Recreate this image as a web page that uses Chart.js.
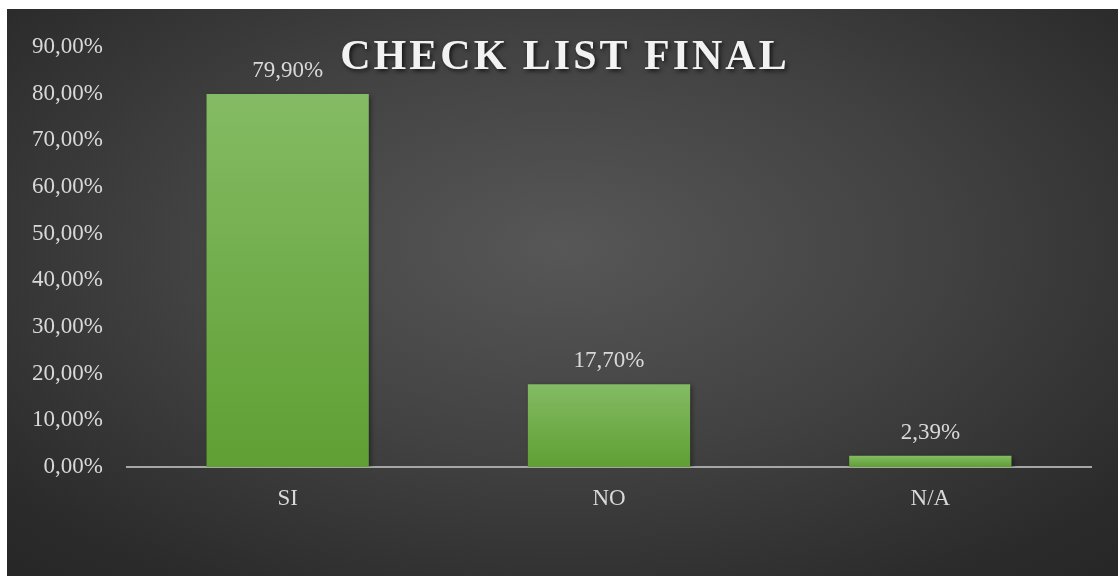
<!DOCTYPE html>
<html>
<head>
<meta charset="utf-8">
<script src="https://cdn.jsdelivr.net/npm/chart.js@4"></script>
<style>
  html, body { margin: 0; padding: 0; background: #fff; }
  #wrap {
    position: absolute; left: 7px; top: 9px; width: 1111px; height: 567px;
    background: radial-gradient(ellipse 75% 80% at 50% 42%, #575757 0%, #424242 45%, #2b2b2b 85%, #262626 100%);
  }
</style>
</head>
<body>
<div id="wrap"><canvas id="chart" width="1111" height="567"></canvas></div>
<script>
const categories = ['SI', 'NO', 'N/A'];
const values = [79.90, 17.70, 2.39];
const yTicks = [0, 10, 20, 30, 40, 50, 60, 70, 80, 90];
const titleText = 'CHECK LIST FINAL';

function fmt(v) {
    return v.toFixed(2).replace('.', ',') + '%';
}

// title drawn over the plot like the original
const titlePlugin = {
    id: 'overTitle',
    afterDraw(chart) {
        const ctx = chart.ctx;
        ctx.save();
        ctx.font = 'bold 42px "Liberation Serif", "Times New Roman", serif';
        ctx.letterSpacing = '3px';
        ctx.fillStyle = '#f2f2f2';
        ctx.textAlign = 'center';
        ctx.textBaseline = 'middle';
        ctx.shadowColor = 'rgba(0,0,0,0.7)';
        ctx.shadowBlur = 4;
        ctx.shadowOffsetX = 2;
        ctx.shadowOffsetY = 2;
        ctx.fillText(titleText, 558, 49);
        ctx.restore();
    }
};

// value labels above bars
const labelPlugin = {
    id: 'valueLabels',
    afterDatasetsDraw(chart) {
        const ctx = chart.ctx;
        const meta = chart.getDatasetMeta(0);
        ctx.save();
        ctx.font = '23px "Liberation Serif", "Times New Roman", serif';
        ctx.fillStyle = '#d9d9d9';
        ctx.textAlign = 'center';
        ctx.textBaseline = 'alphabetic';
        meta.data.forEach((bar, i) => {
            ctx.fillText(fmt(values[i]), bar.x, bar.y - 17);
        });
        ctx.restore();
    }
};

const shadowPlugin = {
    id: 'barShadow',
    beforeDatasetsDraw(chart) {
        const ctx = chart.ctx;
        ctx.save();
        ctx.shadowColor = 'rgba(0,0,0,0.45)';
        ctx.shadowBlur = 5;
        ctx.shadowOffsetX = 2;
        ctx.shadowOffsetY = 2;
    },
    afterDatasetsDraw(chart) {
        chart.ctx.restore();
    }
};

function barFill(context) {
    const chart = context.chart;
    if (!chart.chartArea) return '#70ad47';
    const y = chart.scales.y;
    const v = values[context.dataIndex];
    const top = y.getPixelForValue(v);
    const bottom = y.getPixelForValue(0);
    const g = chart.ctx.createLinearGradient(0, top, 0, bottom);
    g.addColorStop(0, '#84bb64');
    g.addColorStop(1, '#5f9f33');
    return g;
}

const ctx = document.getElementById('chart').getContext('2d');
new Chart(ctx, {
    type: 'bar',
    data: {
        labels: categories,
        datasets: [{
            data: values,
            backgroundColor: barFill,
            borderWidth: 0,
            categoryPercentage: 1,
            barPercentage: 0.505
        }]
    },
    options: {
        responsive: false,
        animation: false,
        layout: { padding: { left: 0, right: 27, top: 37, bottom: 0 } },
        plugins: {
            legend: { display: false },
            tooltip: { enabled: false }
        },
        scales: {
            x: {
                grid: { display: false, drawTicks: false },
                border: { display: true, color: '#a6a6a6', width: 2 },
                ticks: {
                    color: '#d9d9d9',
                    padding: 18,
                    font: { family: '"Liberation Serif", "Times New Roman", serif', size: 23 }
                },
                afterFit(axis) { axis.height = 109; }
            },
            y: {
                min: 0,
                max: 90,
                grid: { display: false, drawTicks: false },
                border: { display: false },
                afterBuildTicks(axis) {
                    axis.ticks = yTicks.map(v => ({ value: v }));
                },
                ticks: {
                    color: '#d9d9d9',
                    padding: 24,
                    font: { family: '"Liberation Serif", "Times New Roman", serif', size: 23 },
                    callback: v => fmt(v)
                },
                afterFit(axis) { axis.width = 120; }
            }
        }
    },
    plugins: [shadowPlugin, labelPlugin, titlePlugin]
});
</script>
</body>
</html>
